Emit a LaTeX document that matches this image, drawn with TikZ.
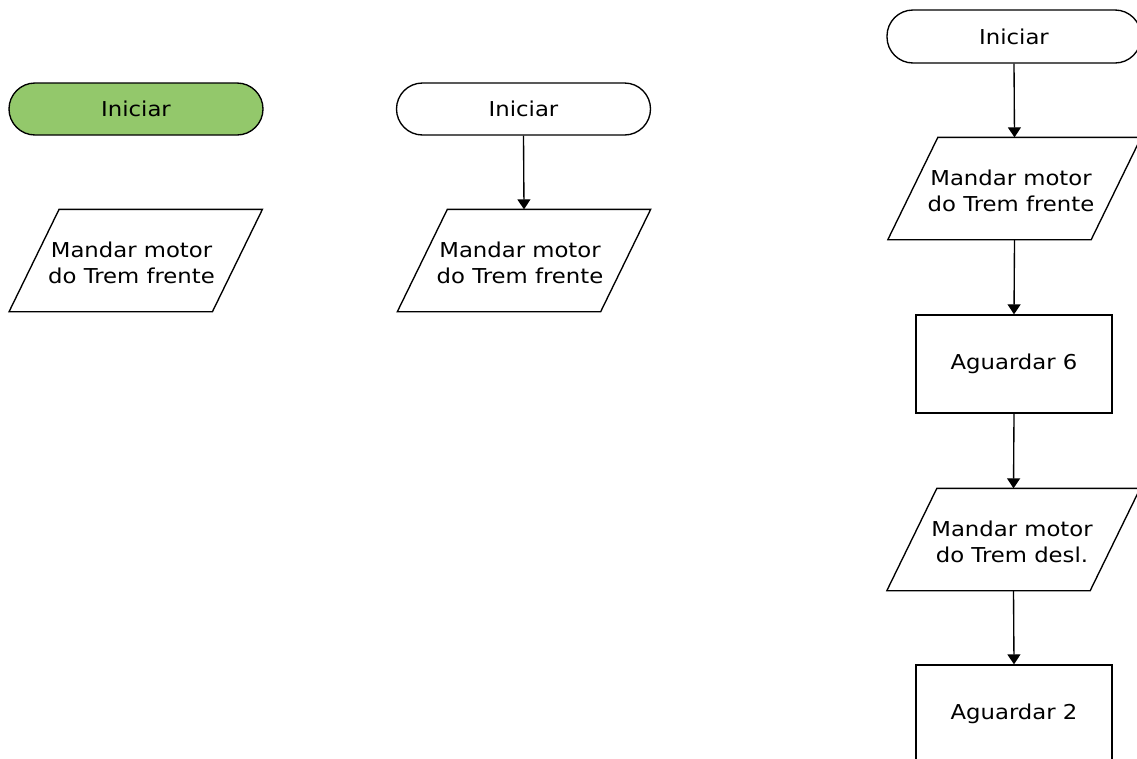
\documentclass[tikz,border=0pt]{standalone}
\usepackage{fontspec}
\setmainfont[FakeStretch=1.11]{DejaVu Sans}
\usetikzlibrary{arrows.meta}
\definecolor{startgreen}{HTML}{93C86B}
\tikzset{
  base/.style={line width=1.35pt, font=\fontsize{20.5}{25.5}\selectfont, align=center, inner sep=0pt},
  term/.style={base, draw, rounded corners=26pt, minimum width=254pt, minimum height=52pt},
  proc/.style={base, draw, minimum width=196pt, minimum height=98pt},
  io/.style={base, minimum width=202pt, minimum height=101pt},
  iotext/.style={base, anchor=center},
  para/.style={line width=1.35pt, line join=miter},
  flow/.style={line width=1.35pt, -{Triangle[width=13pt,length=10pt]}}
}
\newcommand{\paradraw}[1]{%
  \draw[para] ([xshift=25pt]#1.north west) -- ([xshift=25pt]#1.north east)
    -- ([xshift=-25pt]#1.south east) -- ([xshift=-25pt]#1.south west) -- cycle;}
\begin{document}
\begin{tikzpicture}[x=1pt,y=-1pt]
\useasboundingbox (0,0) rectangle (1137,758);
\clip (0,0) rectangle (1137,758);
% panel 1
\node[term, fill=startgreen] (s1) at (136,109) {Iniciar};
\node[io] (p1) at (135.75,260.5) {};
\node[iotext] (t1) at (131.5,263) {Mandar motor\\do Trem frente};
\paradraw{p1}
% panel 2
\node[term] (s2) at (523.5,109) {Iniciar};
\node[io] (p2) at (524,260.5) {};
\node[iotext] (t2) at (520,263) {Mandar motor\\do Trem frente};
\paradraw{p2}
\draw[flow] (s2.south) -- (p2.north);
% panel 3
\node[term, minimum height=53pt] (s3) at (1014,36.5) {Iniciar};
\node[io] (p3) at (1014.5,188.5) {};
\node[iotext] (t3) at (1011,191) {Mandar motor\\do Trem frente};
\paradraw{p3}
\node[proc] (a6) at (1014,364) {Aguardar 6};
\node[io] (p4) at (1013.5,539.5) {};
\node[iotext] (t4) at (1012,542) {Mandar motor\\do Trem desl.};
\paradraw{p4}
\node[proc] (a2) at (1014,714) {Aguardar 2};
\draw[flow] (s3.south) -- (p3.north);
\draw[flow] (p3.south) -- (a6.north);
\draw[flow] (a6.south) -- (p4.north);
\draw[flow] (p4.south) -- (a2.north);
\end{tikzpicture}
\end{document}
